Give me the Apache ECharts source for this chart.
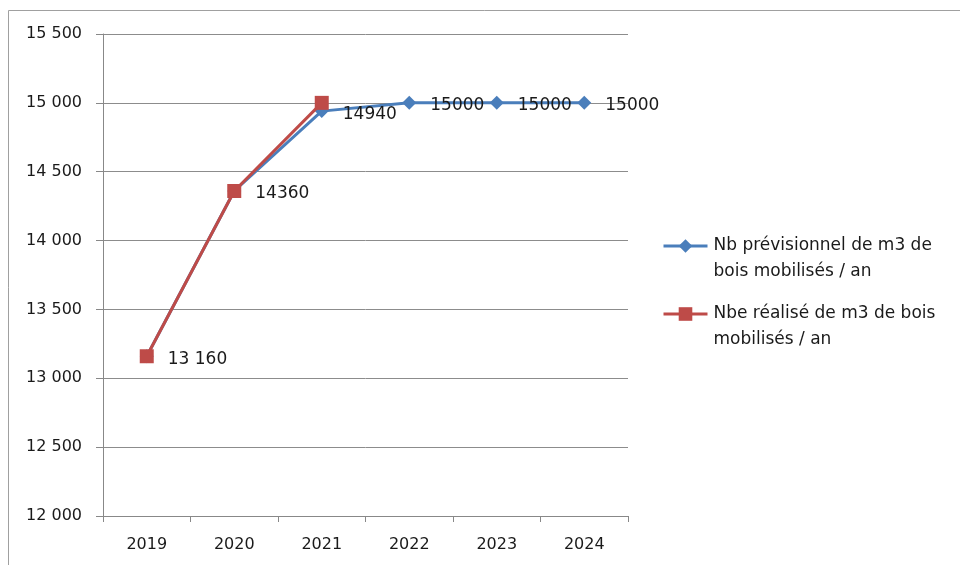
<!DOCTYPE html>
<html>
<head>
<meta charset="utf-8">
<script src="https://cdn.jsdelivr.net/npm/echarts@6/dist/echarts.min.js"></script>
<style>html,body{margin:0;padding:0;background:#fff}#c{width:960px;height:565px}</style>
</head>
<body>
<div id="c"></div>
<script>
var years = ['2019', '2020', '2021', '2022', '2023', '2024'];
var previsionnel = [13160, 14360, 14940, 15000, 15000, 15000];
var realise = [13160, 14360, 15000, null, null, null];
var labelTexts = ['13 160', '14360', '14940', '15000', '15000', '15000'];
var seriesNames = ['Nb prévisionnel de m3 de\nbois mobilisés / an', 'Nbe réalisé de m3 de bois\nmobilisés / an'];
var yMin = 12000, yMax = 15500, yStep = 500;

var FONT = '"DejaVu Sans", Verdana, sans-serif';
var chart = echarts.init(document.getElementById('c'), null, {renderer: 'canvas'});
chart.setOption({
  animation: false,
  backgroundColor: '#ffffff',
  textStyle: {fontFamily: FONT},
  graphic: [
    {type: 'line', shape: {x1: 8.5, y1: 10.5, x2: 960, y2: 10.5}, style: {stroke: '#a0a0a0', lineWidth: 1}},
    {type: 'line', shape: {x1: 8.5, y1: 10.5, x2: 8.5, y2: 565}, style: {stroke: '#a0a0a0', lineWidth: 1}}
  ],
  grid: {left: 103, right: 332, top: 34, bottom: 49, containLabel: false},
  legend: {
    orient: 'vertical',
    left: 662,
    top: 207,
    padding: 0,
    itemWidth: 44,
    itemHeight: 17,
    itemGap: -10,
    lineStyle: {width: 3},
    formatter: function (n) { return '\n' + n; },
    textStyle: {fontFamily: FONT, fontSize: 17, color: '#1a1a1a', lineHeight: 26, padding: [0, 0, 0, 1]},
    data: seriesNames
  },
  xAxis: {
    type: 'category',
    data: years,
    boundaryGap: true,
    axisLine: {lineStyle: {color: '#888888', width: 1}},
    axisTick: {show: true, length: 6, alignWithLabel: false, lineStyle: {color: '#888888'}},
    axisLabel: {fontFamily: FONT, fontSize: 16, color: '#1a1a1a', margin: 21},
    splitLine: {show: false}
  },
  yAxis: {
    type: 'value',
    min: yMin,
    max: yMax,
    interval: yStep,
    axisLine: {show: true, lineStyle: {color: '#888888', width: 1}},
    axisTick: {show: true, inside: false, length: 7, lineStyle: {color: '#888888'}},
    axisLabel: {
      fontFamily: FONT, fontSize: 16, color: '#1a1a1a', margin: 21,
      formatter: function (v) { return String(v).replace(/\B(?=(\d{3})+(?!\d))/g, ' '); }
    },
    splitLine: {show: true, lineStyle: {color: '#8c8c8c', width: 1}}
  },
  series: [
    {
      name: seriesNames[0],
      type: 'line',
      data: previsionnel,
      symbol: 'diamond',
      symbolSize: 14,
      lineStyle: {color: '#4a7ebb', width: 3},
      itemStyle: {color: '#4a7ebb'},
      z: 2,
      label: {
        show: true,
        position: 'right',
        distance: 14,
        offset: [0, 3],
        fontFamily: FONT,
        fontSize: 17,
        color: '#1a1a1a',
        formatter: function (p) { return labelTexts[p.dataIndex]; }
      }
    },
    {
      name: seriesNames[1],
      type: 'line',
      data: realise,
      symbol: 'rect',
      symbolSize: 14,
      lineStyle: {color: '#be4b48', width: 3},
      itemStyle: {color: '#be4b48'},
      z: 3,
      label: {show: false}
    }
  ]
});
</script>
</body>
</html>
